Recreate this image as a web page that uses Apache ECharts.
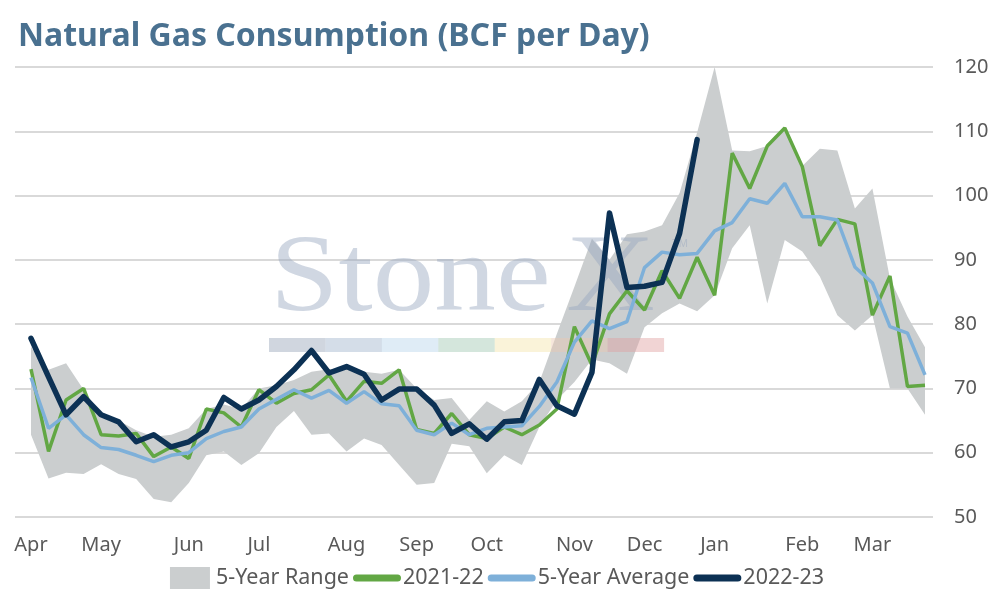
<!DOCTYPE html>
<html>
<head>
<meta charset="utf-8">
<script src="https://cdn.jsdelivr.net/npm/echarts@6/dist/echarts.min.js"></script>
<style>
html,body{margin:0;padding:0;background:#fff;}
#chart{width:994px;height:600px;}
</style>
</head>
<body>
<div id="chart"></div>
<script>
// Weekly points, April through March (52 weeks)
var weeks = [];
for (var w = 1; w <= 52; w++) { weeks.push('W' + w); }

// Month tick labels by week index
var tickLabels = {0:'Apr',4:'May',9:'Jun',13:'Jul',18:'Aug',22:'Sep',26:'Oct',31:'Nov',35:'Dec',39:'Jan',44:'Feb',48:'Mar'};

var rangeLow = [62.8,56.0,56.9,56.7,58.2,56.7,55.9,52.8,52.3,55.3,59.6,60.2,58.1,59.9,64.0,66.5,62.8,63.0,60.2,62.2,61.2,58.1,55.0,55.3,61.4,61.0,56.8,59.6,58.1,64.0,68.2,71.0,74.5,73.9,72.3,79.5,81.7,83.2,82.0,84.5,91.8,95.4,83.2,93.1,91.3,87.4,81.4,79.0,81.4,70.0,70.0,65.9];
var rangeHigh = [76.5,72.9,73.9,69.8,66.0,65.0,63.5,62.5,62.8,63.8,66.8,67.5,66.8,70.0,70.5,71.3,72.6,73.0,73.2,72.6,72.3,72.9,70.0,68.2,68.5,65.1,68.0,66.4,68.0,71.0,78.5,85.8,93.3,90.0,94.0,94.4,95.4,100.4,109.8,120.0,107.0,106.9,107.7,110.5,104.6,107.3,107.0,98.0,101.1,87.1,81.2,76.4];
var y2021 = [73.0,60.2,68.2,70.0,62.8,62.6,63.0,59.4,60.9,59.1,66.8,66.2,64.0,69.8,67.7,69.2,69.8,72.1,68.0,71.1,70.8,72.9,63.6,63.0,66.1,62.8,62.2,64.0,62.8,64.3,66.8,79.6,73.6,81.6,85.2,82.2,88.3,84.0,90.4,84.5,106.6,101.1,107.7,110.5,104.5,92.2,96.3,95.6,81.4,87.5,70.3,70.5];
var avg5 = [71.7,63.8,65.9,62.8,60.8,60.5,59.6,58.6,59.6,60.0,62.2,63.3,64.0,66.8,68.3,69.8,68.5,69.7,67.7,69.5,67.6,67.3,63.5,62.8,64.6,62.8,63.8,64.0,64.2,67.2,71.0,77.2,80.5,79.3,80.4,88.8,91.2,90.8,91.0,94.5,95.8,99.5,98.8,101.9,96.7,96.7,96.2,88.9,86.4,79.6,78.6,72.1];
var y2022 = [77.8,71.8,65.9,68.7,65.9,64.8,61.7,62.8,60.9,61.7,63.5,68.6,66.8,68.2,70.3,72.9,75.9,72.4,73.4,72.2,68.2,69.9,69.9,67.4,63.0,64.5,62.1,64.8,65.0,71.4,67.3,66.0,72.5,97.3,85.7,85.9,86.5,94.1,108.7];

var rangeSpan = rangeHigh.map(function(v, i){ return +(v - rangeLow[i]).toFixed(2); });

var chart = echarts.init(document.getElementById('chart'));
var labelFont = '"Noto Sans"';
var wmFill = 'rgba(150,166,190,0.45)';
var stripColors = ['rgba(150,163,185,0.45)','rgba(160,180,205,0.45)','rgba(185,212,235,0.45)','rgba(160,200,178,0.45)','rgba(245,228,170,0.45)','rgba(235,200,175,0.45)','rgba(225,160,160,0.45)'];
var graphics = [
  {type:'text', z:2, left:270, top:226, scaleX:1.12, style:{text:'Stone', font:'normal 110px "Liberation Serif"', fill:wmFill}},
  {type:'text', z:2, left:566, top:226, scaleX:1.12, style:{text:'X', font:'normal 110px "Liberation Serif"', fill:wmFill}},
  {type:'text', z:2, left:672, top:238, style:{text:'TM', font:'normal 11px "Liberation Sans"', fill:wmFill}}
];
stripColors.forEach(function(c, k){
  graphics.push({type:'rect', z:2, shape:{x:269 + k*56.43, y:338, width:56.5, height:14}, style:{fill:c}});
});

var lineIcon = 'path://M0,0L0.05,0L0.05,0.05Z M3.5,7.5L44.5,7.5A3.5,3.5,0,0,1,44.5,14.5L3.5,14.5A3.5,3.5,0,0,1,3.5,7.5Z M48,22L47.95,22L47.95,21.95Z';

chart.setOption({
  animation:false,
  backgroundColor:'#ffffff',
  title:{text:'Natural Gas Consumption (BCF per Day)', left:13, top:16,
    textStyle:{fontFamily:'"Noto Sans"', fontWeight:'bold', fontSize:32, color:'#4a7190'}},
  graphic: graphics,
  legend:{
    bottom:6, left:'center', itemGap:4, itemWidth:48, itemHeight:22,
    textStyle:{fontFamily:labelFont, fontSize:21.5, color:'#595959', padding:[0,0,0,-3]},
    data:[
      {name:'5-Year Range', icon:'path://M4,0L44,0L44,22L4,22Z', itemStyle:{color:'#cbcecf'}},
      {name:'2021-22', icon:lineIcon, itemStyle:{color:'#62a744'}},
      {name:'5-Year Average', icon:lineIcon, itemStyle:{color:'#7eb0d9'}},
      {name:'2022-23', icon:lineIcon, itemStyle:{color:'#0c3154'}}
    ]
  },
  grid:[
    {left:31, right:69, top:67, bottom:83, outerBoundsMode:'none'},
    {left:15, right:61, top:67, bottom:83, outerBoundsMode:'none'}
  ],
  xAxis:[
    {gridIndex:0, type:'category', data:weeks, boundaryGap:false,
      axisLine:{show:false}, axisTick:{show:false}, splitLine:{show:false},
      axisLabel:{interval:0, margin:18, fontFamily:labelFont, fontSize:20, color:'#595959',
        formatter:function(v, i){ return tickLabels[i] || ''; }}},
    {gridIndex:1, type:'value', show:false, min:0, max:1}
  ],
  yAxis:[
    {gridIndex:0, type:'value', min:50, max:120, interval:10, show:false},
    {gridIndex:1, type:'value', min:50, max:120, interval:10, position:'right',
      axisLine:{show:false}, axisTick:{show:false},
      splitLine:{lineStyle:{color:'#d9d9d9', width:2}},
      axisLabel:{margin:21, fontFamily:labelFont, fontSize:20, color:'#595959'}}
  ],
  series:[
    {name:'rangeBase', type:'line', xAxisIndex:0, yAxisIndex:0, stack:'range', data:rangeLow,
      symbol:'none', lineStyle:{opacity:0}, silent:true, z:1},
    {name:'5-Year Range', type:'line', xAxisIndex:0, yAxisIndex:0, stack:'range', data:rangeSpan,
      symbol:'none', lineStyle:{opacity:0}, itemStyle:{color:'#cbcecf'},
      areaStyle:{color:'#cbcecf', opacity:1}, silent:true, z:1},
    {name:'2021-22', type:'line', xAxisIndex:0, yAxisIndex:0, data:y2021, symbol:'none',
      itemStyle:{color:'#62a744'}, lineStyle:{color:'#62a744', width:3.5}, z:3},
    {name:'5-Year Average', type:'line', xAxisIndex:0, yAxisIndex:0, data:avg5, symbol:'none',
      itemStyle:{color:'#7eb0d9'}, lineStyle:{color:'#7eb0d9', width:3.5}, z:4},
    {name:'2022-23', type:'line', xAxisIndex:0, yAxisIndex:0, data:y2022, symbol:'none',
      itemStyle:{color:'#0c3154'}, lineStyle:{color:'#0c3154', width:5.5, cap:'round', join:'round'}, z:5}
  ]
});
</script>
</body>
</html>
